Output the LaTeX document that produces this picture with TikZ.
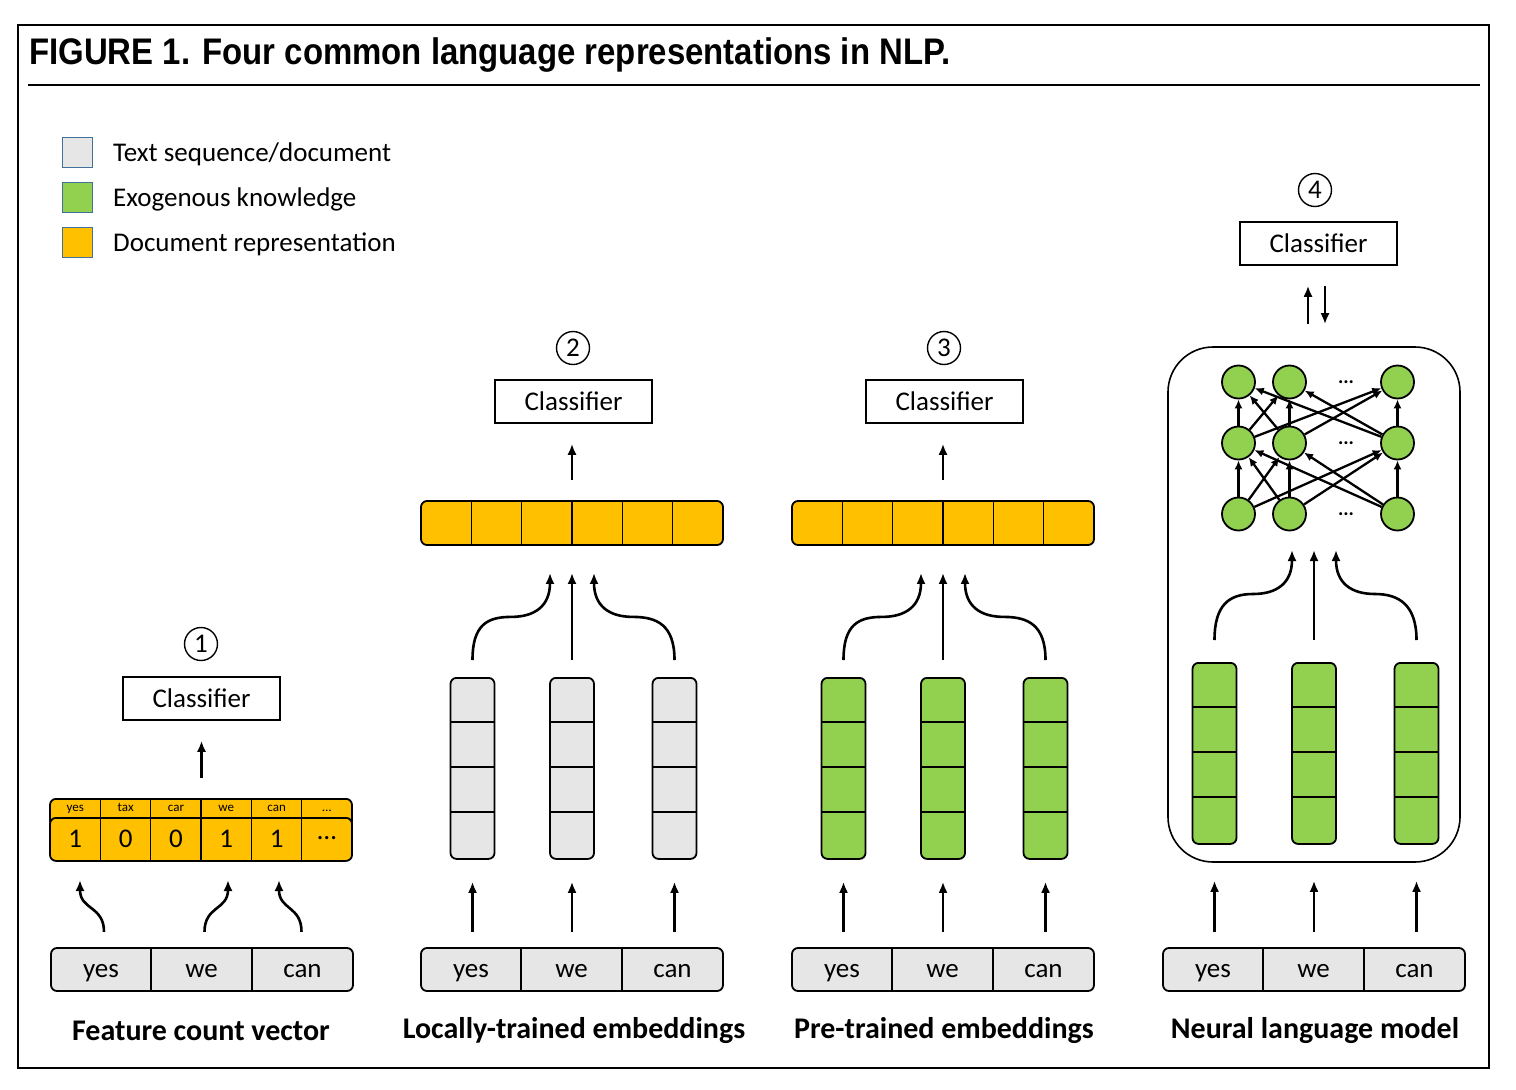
\documentclass[tikz,border=0pt]{standalone}
\usepackage{fontspec}
\setmainfont{Carlito}
\newfontfamily\titlefont[FakeStretch=0.89]{Liberation Sans}
\usetikzlibrary{arrows.meta}

\definecolor{docgray}{HTML}{E6E6E6}
\definecolor{exogreen}{HTML}{92D050}
\definecolor{reporange}{HTML}{FFC000}
\definecolor{legendedge}{HTML}{41719C}

\tikzset{
  uparrow/.style={line width=2.6pt,-{Latex[length=11pt,width=9pt]}},
  cell/.style={draw,line width=1.8pt,rounded corners=6pt,inner sep=0pt},
  divider/.style={line width=1.6pt},
  clfbox/.style={draw,line width=1.5pt,minimum width=157pt,minimum height=43pt,font=\fontsize{27}{30}\selectfont},
  numcirc/.style={draw,circle,line width=1.4pt,minimum size=33pt,inner sep=0pt,font=\fontsize{27}{30}\selectfont},
  wordcell/.style={minimum width=100pt,minimum height=43pt,inner sep=0pt,text height=18pt,text depth=2pt,font=\fontsize{27}{30}\selectfont},
  neuron/.style={draw,circle,fill=exogreen,line width=1.8pt,minimum size=33pt,inner sep=0pt},
  nnedge/.style={line width=2.3pt,-{Latex[length=9pt,width=8pt]}},
  panellabel/.style={font=\bfseries\fontsize{30}{34}\selectfont},
  legendsq/.style={draw=legendedge,line width=1.6pt,minimum size=30pt,inner sep=0pt},
  legendtxt/.style={anchor=west,inner sep=0pt,text height=18pt,text depth=2pt,font=\fontsize{27}{30}\selectfont},
}

\begin{document}
\begin{tikzpicture}[x=1pt,y=-1pt]
  \useasboundingbox (0,0) rectangle (1516,1090);

  % frame and title
  \draw[line width=1.3pt] (18,25) rectangle (1489,1068);
  \node[anchor=west,inner sep=0pt,font=\titlefont\bfseries\fontsize{37}{40}\selectfont] (title) at (29,55) {FIGURE 1. Four common language representations in NLP.};
  \draw[line width=1.5pt] (28,85) -- (1480,85);

  % legend
  \node[legendsq,fill=docgray] (lg1) at (77.5,152.5) {};
  \node[legendsq,fill=exogreen] (lg2) at (77.5,197.5) {};
  \node[legendsq,fill=reporange] (lg3) at (77.5,242.5) {};
  \node[legendtxt] (lt1) at (113,153) {Text sequence/document};
  \node[legendtxt] (lt2) at (113,198) {Exogenous knowledge};
  \node[legendtxt] (lt3) at (113,243) {Document representation};

  % input words
  \foreach \c/\x in {1/51,2/421,3/792,4/1163}{
    \draw[cell,fill=docgray] (\x,948) rectangle ++(302,43);
    \draw[divider] (\x+100,948) -- ++(0,43) (\x+201,948) -- ++(0,43);
    \node[wordcell] (yes\c) at (\x+50,969.5) {yes};
    \node[wordcell] (we\c) at (\x+150.5,969.5) {we};
    \node[wordcell] (can\c) at (\x+251.5,969.5) {can};
  }

  % panel labels
  \node[panellabel] (lab1) at (201,1031) {Feature count vector};
  \node[panellabel] (lab2) at (574,1031) {Locally-trained embeddings};
  \node[panellabel] (lab3) at (944,1031) {Pre-trained embeddings};
  \node[panellabel] (lab4) at (1315,1031) {Neural language model};

  % 1: feature count vector
  \node[cell,fill=reporange,minimum width=302pt,minimum height=28pt,anchor=north] (rep1top) at (201,798) {};
  \node[cell,fill=reporange,minimum width=302pt,minimum height=43pt,anchor=north] (rep1) at (201,817) {};
  \foreach \k in {1,...,5}
    \draw[divider] (50+50.33*\k,798) -- ++(0,62);
  \foreach \w [count=\k] in {yes,tax,car,we,can,\dots}
    \node[inner sep=0pt,text height=9pt,text depth=2pt,font=\fontsize{13}{15}\selectfont] (key\k) at (25+50.33*\k,807.5) {\w};
  \foreach \d [count=\k] in {1,0,0,1,1,\dots}
    \node[inner sep=0pt,font=\fontsize{27}{30}\selectfont] (dig\k) at (25+50.33*\k,838.5) {\d};
  \node[clfbox] (clf1) at (201.5,698.5) {Classifier};
  \node[numcirc] (num1) at (201,644) {1};
  \draw[uparrow,shorten <=20pt,shorten >=20pt] (rep1top.north -| clf1.south) -- (clf1.south);
  \coordinate (f1) at (80,880);
  \coordinate (f2) at (228,880);
  \coordinate (f3) at (279,880);
  \draw[uparrow] ([xshift=3pt,yshift=16pt]yes1.north) .. controls +(0,-26) and +(0,30) .. (f1);
  \draw[uparrow] ([xshift=3pt,yshift=16pt]we1.north) .. controls +(0,-26) and +(0,30) .. (f2);
  \draw[uparrow] ([xshift=-1pt,yshift=16pt]can1.north) .. controls +(0,-26) and +(0,30) .. (f3);

  % 2 and 3: embeddings and averaged vector
  \foreach \c/\x in {2/421,3/792}{
    \node[cell,fill=reporange,minimum width=302pt,minimum height=44pt] (rep\c) at (\x+151,523) {};
    \foreach \k in {1,...,5}
      \draw[divider] (\x+50.33*\k,501) -- ++(0,44);
    \node[clfbox] (clf\c) at (\x+152.5,401.5) {Classifier};
    \node[numcirc] (num\c) at (\x+152,348) {\c};
    \draw[uparrow,shorten <=20pt,shorten >=20pt] (rep\c.north) -- (rep\c.north |- clf\c.south);
    \coordinate (in\c) at ([yshift=-27pt]rep\c.south);
  }
  \coordinate (in4) at (1314,550);

  % embedding columns
  \foreach \c/\x/\t/\col in {2/421/677/docgray,3/792/677/exogreen,4/1163/662/exogreen}{
    \foreach \i/\dx in {1/51.5,2/151,3/253.5}{
      \node[cell,fill=\col,minimum width=44pt,minimum height=181pt,anchor=north] (emb\c\i) at (\x+\dx,\t) {};
      \foreach \k in {1,2,3}
        \draw[divider] (\x+\dx-22,\t+45*\k) -- ++(44,0);
    }
  }

  % 4: neural language model
  \node[draw,line width=1.6pt,rounded corners=45pt,minimum width=292pt,minimum height=515pt] (nlm) at (1314,604.5) {};
  \node[clfbox] (clf4) at (1318.5,243.5) {Classifier};
  \node[numcirc] (num4) at (1315,190) {4};
  \coordinate (up4) at ([xshift=-6pt]nlm.north);
  \coordinate (down4) at ([xshift=11pt]nlm.north);
  \draw[uparrow,shorten <=22pt,shorten >=20pt] (up4) -- (up4 |- clf4.south);
  \draw[uparrow,shorten <=20pt,shorten >=22pt] (down4 |- clf4.south) -- (down4);
  \foreach \r/\y in {1/514,2/443,3/382}{
    \node[neuron] (n\r1) at (1238.5,\y) {};
    \node[neuron] (n\r2) at (1289.5,\y) {};
    \node[neuron] (n\r3) at (1397.5,\y) {};
    \node[inner sep=0pt,font=\bfseries\fontsize{20}{22}\selectfont] (dots\r) at (1346,\y) {...};
  }
  \foreach \i in {1,2,3}
    \foreach \j in {1,2,3}{
      \draw[nnedge] (n1\i) -- (n2\j);
      \draw[nnedge] (n2\i) -- (n3\j);
    }

  % arrows into the vectors
  \foreach \c/\s in {2/17,3/17,4/22}{
    \draw[uparrow] ([yshift=\s pt]emb\c1.north) .. controls +(0,-35) and +(-24,0) .. ([shift={(-61,44)}]in\c) .. controls +(24,0) and +(0,33) .. ([xshift=-22pt]in\c);
    \draw[uparrow] ([yshift=\s pt]emb\c2.north) -- (in\c);
    \draw[uparrow] ([yshift=\s pt]emb\c3.north) .. controls +(0,-35) and +(24,0) .. ([shift={(61,44)}]in\c) .. controls +(-24,0) and +(0,33) .. ([xshift=22pt]in\c);
  }

  % arrows from the words
  \foreach \c in {2,3}
    \foreach \i/\w in {1/yes,2/we,3/can}
      \draw[uparrow,shorten <=16pt,shorten >=22pt] (emb\c\i.south |- \w\c.north) -- (emb\c\i.south);
  \foreach \i/\w in {1/yes,2/we,3/can}
    \draw[uparrow,shorten <=16pt,shorten >=18pt] (emb4\i.south |- \w4.north) -- (emb4\i.south |- nlm.south);
\end{tikzpicture}
\end{document}
